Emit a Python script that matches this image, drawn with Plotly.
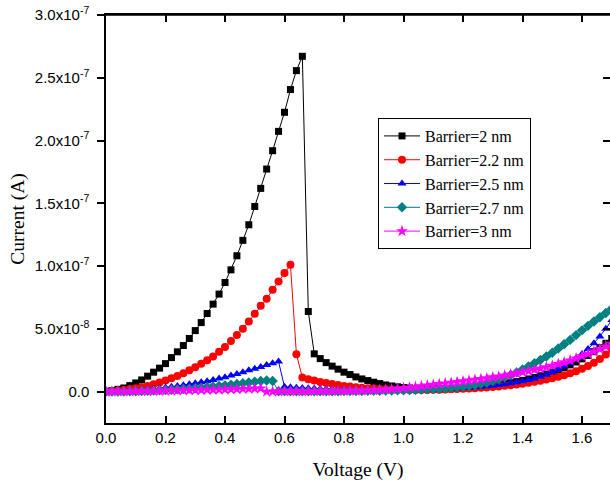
import plotly.graph_objects as go

# Voltage grid (V)
voltage = [0.00, 0.02, 0.04, 0.06, 0.08, 0.10, 0.12, 0.14, 0.16, 0.18,
           0.20, 0.22, 0.24, 0.26, 0.28, 0.30, 0.32, 0.34, 0.36, 0.38,
           0.40, 0.42, 0.44, 0.46, 0.48, 0.50, 0.52, 0.54, 0.56, 0.58,
           0.60, 0.62, 0.64, 0.66, 0.68, 0.70, 0.72, 0.74, 0.76, 0.78,
           0.80, 0.82, 0.84, 0.86, 0.88, 0.90, 0.92, 0.94, 0.96, 0.98,
           1.00, 1.02, 1.04, 1.06, 1.08, 1.10, 1.12, 1.14, 1.16, 1.18,
           1.20, 1.22, 1.24, 1.26, 1.28, 1.30, 1.32, 1.34, 1.36, 1.38,
           1.40, 1.42, 1.44, 1.46, 1.48, 1.50, 1.52, 1.54, 1.56, 1.58,
           1.60, 1.62, 1.64, 1.66, 1.68, 1.70]

# Currents in units of 1e-9 A
current_2nm = [0.2, 0.8, 1.8, 2.9, 4.8, 6.9, 9.3, 12.3, 15.5, 18.7,
               22.3, 27.1, 31.7, 36.7, 42.3, 48.6, 55.0, 62.2, 69.7, 77.7,
               86.9, 97.0, 108.2, 120.5, 132.9, 147.5, 161.9, 177.3, 191.9, 207.3,
               222.5, 240.6, 255.7, 267.1, 63.8, 30.1, 26.3, 23.1, 20.3, 17.9,
               15.5, 13.6, 11.7, 10.1, 8.8, 7.5, 6.4, 5.3, 4.5, 3.8,
               3.3, 2.9, 2.6, 2.4, 2.3, 2.2, 2.2, 2.3, 2.4, 2.6,
               2.8, 3.1, 3.5, 3.9, 4.4, 5.0, 5.6, 6.3, 7.1, 8.0,
               9.0, 10.1, 11.3, 12.6, 14.0, 15.6, 17.3, 19.2, 21.3, 23.6,
               26.1, 28.8, 31.8, 35.0, 38.5, 42.3]

current_2p2nm = [0.0, 0.4, 0.8, 1.3, 2.0, 2.7, 3.5, 4.5, 5.9, 7.2,
                 8.8, 10.7, 12.5, 14.7, 17.1, 19.5, 22.1, 25.0, 27.9, 31.7,
                 35.6, 40.4, 45.0, 50.0, 55.8, 62.0, 68.3, 73.9, 81.1, 87.7,
                 94.4, 101.0, 29.8, 11.2, 9.9, 8.8, 7.7, 6.9, 6.1, 5.3,
                 4.5, 4.0, 3.5, 3.1, 2.7, 2.4, 2.1, 1.9, 1.7, 1.5,
                 1.4, 1.3, 1.3, 1.3, 1.3, 1.4, 1.5, 1.6, 1.8, 2.0,
                 2.2, 2.4, 2.7, 3.0, 3.3, 3.7, 4.1, 4.6, 5.1, 5.7,
                 6.3, 7.0, 7.8, 8.6, 9.6, 10.6, 11.8, 13.1, 14.6, 16.3,
                 18.2, 20.4, 23.0, 26.0, 29.5, 33.5]

current_2p5nm = [0.0, 0.1, 0.3, 0.5, 0.8, 1.1, 1.4, 1.8, 2.2, 2.7,
                 3.2, 3.8, 4.4, 5.0, 5.8, 6.6, 7.4, 8.3, 9.3, 10.4,
                 11.5, 12.8, 14.1, 15.5, 17.1, 18.3, 19.7, 21.3, 22.6, 23.9,
                 3.8, 3.4, 3.1, 2.8, 2.6, 2.4, 2.2, 2.0, 1.9, 1.7,
                 1.6, 1.5, 1.4, 1.3, 1.2, 1.1, 1.05, 1.0, 1.0, 1.0,
                 1.0, 1.1, 1.2, 1.3, 1.4, 1.6, 1.8, 2.0, 2.2, 2.5,
                 2.8, 3.1, 3.4, 3.8, 4.2, 4.7, 5.3, 5.9, 6.6, 7.4,
                 8.3, 9.3, 10.3, 11.8, 13.5, 15.5, 17.5, 20.0, 23.0, 26.5,
                 30.0, 34.0, 38.5, 44.0, 50.0, 57.0]

current_2p7nm = [0.0, 0.05, 0.1, 0.15, 0.25, 0.35, 0.5, 0.6, 0.8, 1.0,
                 1.2, 1.5, 1.8, 2.1, 2.4, 2.8, 3.2, 3.6, 4.0, 4.5,
                 5.0, 5.5, 6.1, 6.7, 7.3, 7.9, 8.4, 8.9, 8.4, 0.3,
                 0.3, 0.3, 0.3, 0.3, 0.3, 0.3, 0.3, 0.3, 0.35, 0.35,
                 0.4, 0.4, 0.45, 0.5, 0.55, 0.6, 0.7, 0.8, 0.9, 1.0,
                 1.1, 1.2, 1.4, 1.6, 1.8, 2.0, 2.3, 2.6, 3.0, 3.5,
                 4.0, 4.6, 5.3, 6.2, 7.2, 8.4, 9.8, 11.4, 13.2, 15.3,
                 17.6, 20.0, 22.6, 25.2, 28.0, 31.0, 34.3, 37.7, 41.2, 45.0,
                 48.8, 52.4, 55.8, 59.2, 62.6, 66.0]

current_3nm = [0.0, 0.05, 0.1, 0.15, 0.2, 0.3, 0.35, 0.4, 0.5, 0.6,
               0.7, 0.8, 0.9, 1.0, 1.1, 1.2, 1.3, 1.4, 1.5, 1.6,
               1.7, 1.85, 2.0, 2.15, 2.3, 2.45, 2.6, 0.0, 0.05, 0.1,
               0.15, 0.2, 0.2, 0.25, 0.3, 0.35, 0.4, 0.45, 0.5, 0.55,
               0.6, 0.7, 0.8, 0.9, 1.0, 1.2, 1.4, 1.7, 2.0, 2.4,
               2.8, 3.3, 3.8, 4.4, 5.0, 5.6, 6.1, 6.6, 7.1, 7.6,
               8.2, 8.8, 9.4, 10.0, 10.7, 11.4, 12.1, 12.9, 13.7, 14.6,
               15.5, 16.4, 17.4, 18.4, 19.5, 20.7, 22.0, 23.4, 24.9, 26.5,
               28.2, 30.0, 31.9, 33.9, 36.0, 38.2]

series_names = ["Barrier=2 nm", "Barrier=2.2 nm", "Barrier=2.5 nm",
                "Barrier=2.7 nm", "Barrier=3 nm"]
series_values = [current_2nm, current_2p2nm, current_2p5nm, current_2p7nm, current_3nm]
colors = ["#000000", "#FF0000", "#0000FF", "#008080", "#FF00FF"]
symbols = ["square", "circle", "triangle-up", "diamond", "star"]
sizes = [7, 8, 8, 8, 9]

x_tickvals = [0.0, 0.2, 0.4, 0.6, 0.8, 1.0, 1.2, 1.4, 1.6]
x_ticktext = ["0.0", "0.2", "0.4", "0.6", "0.8", "1.0", "1.2", "1.4", "1.6"]
y_tickvals = [0.0, 5e-8, 1e-7, 1.5e-7, 2e-7, 2.5e-7, 3e-7]
y_ticktext = ["0.0", "5.0x10<sup>-8</sup>", "1.0x10<sup>-7</sup>", "1.5x10<sup>-7</sup>",
              "2.0x10<sup>-7</sup>", "2.5x10<sup>-7</sup>", "3.0x10<sup>-7</sup>"]

NANO = 1e-9
x_range = [0, 1.694]
y_range = [-2.5e-8, 3.0e-7]

fig = go.Figure()
for name, vals, c, s, sz in zip(series_names, series_values, colors, symbols, sizes):
    fig.add_trace(go.Scatter(
        x=voltage, y=[v * NANO for v in vals], name=name,
        mode="lines+markers",
        line=dict(color=c, width=1),
        marker=dict(symbol=s, size=sz, color=c, line=dict(width=0)),
    ))

# invisible trace so the top / right frame axes get drawn
fig.add_trace(go.Scatter(x=[0], y=[0], xaxis="x2", yaxis="y2", mode="markers",
                         marker=dict(opacity=0), showlegend=False, hoverinfo="skip"))

tick_font = dict(family="Liberation Sans, Arial, sans-serif", size=15, color="black")
serif = "Liberation Serif, Times New Roman, serif"

fig.update_layout(
    width=610, height=486,
    margin=dict(l=106, r=0, t=15, b=63, autoexpand=False),
    paper_bgcolor="white", plot_bgcolor="white",
    showlegend=True,
    legend=dict(x=0.5397, y=0.7475, xanchor="left", yanchor="top",
                bordercolor="black", borderwidth=1, bgcolor="white",
                font=dict(family=serif, size=16, color="black"),
                itemwidth=36, tracegroupgap=0),
    xaxis=dict(range=x_range, tickvals=x_tickvals, ticktext=x_ticktext,
               ticks="inside", ticklen=7, tickwidth=1.5, tickcolor="black",
               showline=True, linecolor="black", linewidth=1.5, mirror=False,
               showgrid=False, zeroline=False, tickfont=tick_font, automargin=False,
               ticklabeloverflow="allow",
               title=dict(text="Voltage (V)", font=dict(family=serif, size=19.5, color="black"),
                          standoff=18)),
    xaxis2=dict(range=x_range, overlaying="x", side="top", anchor="y", tickvals=x_tickvals,
                ticks="inside", ticklen=7, tickwidth=1.5, tickcolor="black",
                showline=True, linecolor="black", linewidth=1.5,
                showticklabels=False, showgrid=False, zeroline=False, automargin=False),
    yaxis=dict(range=y_range, tickvals=y_tickvals, ticktext=y_ticktext,
               ticks="outside", ticklen=7, tickwidth=1.5, tickcolor="black",
               showline=True, linecolor="black", linewidth=1.5, mirror=False,
               showgrid=False, zeroline=False, tickfont=tick_font, automargin=False,
               ticklabeloverflow="allow", ticklabelstandoff=5,
               title=dict(text="Current (A)", font=dict(family=serif, size=19.5, color="black"),
                          standoff=5)),
    yaxis2=dict(range=y_range, overlaying="y", side="right", anchor="x", tickvals=y_tickvals,
                ticks="inside", ticklen=7, tickwidth=1.5, tickcolor="black",
                showticklabels=False, showline=False, showgrid=False, zeroline=False,
                automargin=False),
    shapes=[dict(type="line", xref="paper", yref="paper", x0=0, x1=1, y0=1, y1=1,
                 line=dict(color="black", width=1.5), layer="above")],
)

# remove the default page margin so the figure sits at the window's top-left corner
fig.write_html("out.html", config={"displayModeBar": False},
               post_script="document.body.style.margin='0px';")
